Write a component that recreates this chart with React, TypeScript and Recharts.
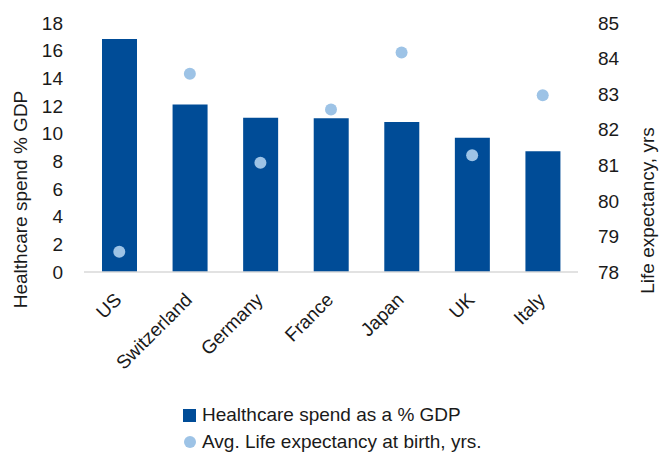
import {
  Bar,
  ComposedChart,
  Legend,
  Line,
  XAxis,
  YAxis,
} from "recharts";

const COUNTRIES = ["US", "Switzerland", "Germany", "France", "Japan", "UK", "Italy"];
const SPEND_PCT_GDP = [16.85, 12.1, 11.15, 11.12, 10.85, 9.7, 8.73];
const LIFE_EXPECTANCY = [78.57, 83.57, 81.07, 82.57, 84.17, 81.28, 82.97];
const LEFT_TICKS = [0, 2, 4, 6, 8, 10, 12, 14, 16, 18];
const RIGHT_TICKS = [78, 79, 80, 81, 82, 83, 84, 85];

const BAR_COLOR = "#004C97";
const DOT_COLOR = "#9DC3E6";
const FONT = "'Liberation Sans', Arial, sans-serif";
const TEXT_COLOR = "#1a1a1a";

const data = COUNTRIES.map((country, i) => ({
  country,
  spend: SPEND_PCT_GDP[i],
  life: LIFE_EXPECTANCY[i],
}));

function CountryTick({ x, y, payload }: any) {
  const tx = x + 3.5;
  const ty = y + 29;
  return (
    <text
      x={tx}
      y={ty}
      textAnchor="end"
      fontSize={19}
      fontFamily={FONT}
      fill={TEXT_COLOR}
      transform={`rotate(-45, ${tx}, ${ty})`}
    >
      {payload.value}
    </text>
  );
}

function LeftLabel() {
  return (
    <text
      x={27}
      y={199.5}
      textAnchor="middle"
      fontSize={19}
      fontFamily={FONT}
      fill={TEXT_COLOR}
      transform="rotate(-90, 27, 199.5)"
    >
      Healthcare spend % GDP
    </text>
  );
}

function RightLabel() {
  return (
    <text
      x={654}
      y={210.5}
      textAnchor="middle"
      fontSize={19}
      fontFamily={FONT}
      fill={TEXT_COLOR}
      transform="rotate(-90, 654, 210.5)"
    >
      Life expectancy, yrs
    </text>
  );
}

function LegendContent() {
  const row = {
    display: "flex",
    alignItems: "center",
    height: 20,
    fontSize: 19,
    fontFamily: FONT,
    color: TEXT_COLOR,
    whiteSpace: "nowrap" as const,
  };
  return (
    <div style={{ paddingLeft: 183, height: 47 }}>
      <div style={row}>
        <span style={{ width: 13, height: 13, background: BAR_COLOR, marginRight: 6 }} />
        Healthcare spend as a % GDP
      </div>
      <div style={{ ...row, marginTop: 7 }}>
        <span
          style={{
            width: 12,
            height: 12,
            borderRadius: "50%",
            background: DOT_COLOR,
            marginLeft: 0.5,
            marginRight: 6.5,
          }}
        />
        Avg. Life expectancy at birth, yrs.
      </div>
    </div>
  );
}

export default function App() {
  return (
    <div style={{ width: 659, height: 452, background: "white" }}>
      <style>{`body { margin: 0; }`}</style>
      <ComposedChart
        width={659}
        height={452}
        data={data}
        margin={{ top: 23, right: 0, bottom: 0, left: 0 }}
      >
        <XAxis
          dataKey="country"
          height={133}
          interval={0}
          tickLine={false}
          tickSize={0}
          tickMargin={0}
          axisLine={{ stroke: "#D9D9D9", strokeWidth: 1.5 }}
          tick={<CountryTick />}
        />
        <YAxis
          yAxisId="left"
          orientation="left"
          width={84}
          domain={[0, 18]}
          ticks={LEFT_TICKS}
          interval={0}
          axisLine={false}
          tickLine={false}
          tickSize={0}
          tickMargin={21}
          tick={{ fontSize: 19, fontFamily: FONT, fill: TEXT_COLOR }}
          label={<LeftLabel />}
        />
        <YAxis
          yAxisId="right"
          orientation="right"
          width={81}
          domain={[78, 85]}
          ticks={RIGHT_TICKS}
          interval={0}
          axisLine={false}
          tickLine={false}
          tickSize={0}
          tickMargin={20}
          tick={{ fontSize: 19, fontFamily: FONT, fill: TEXT_COLOR, textAnchor: "start" }}
          label={<RightLabel />}
        />
        <Bar
          yAxisId="left"
          dataKey="spend"
          fill={BAR_COLOR}
          barSize={35}
          isAnimationActive={false}
        />
        <Line
          yAxisId="right"
          dataKey="life"
          stroke="none"
          dot={{ r: 6, fill: DOT_COLOR, stroke: "none" }}
          activeDot={false}
          isAnimationActive={false}
        />
        <Legend
          verticalAlign="bottom"
          wrapperStyle={{ left: 0, width: 659 }}
          content={<LegendContent />}
        />
      </ComposedChart>
    </div>
  );
}
